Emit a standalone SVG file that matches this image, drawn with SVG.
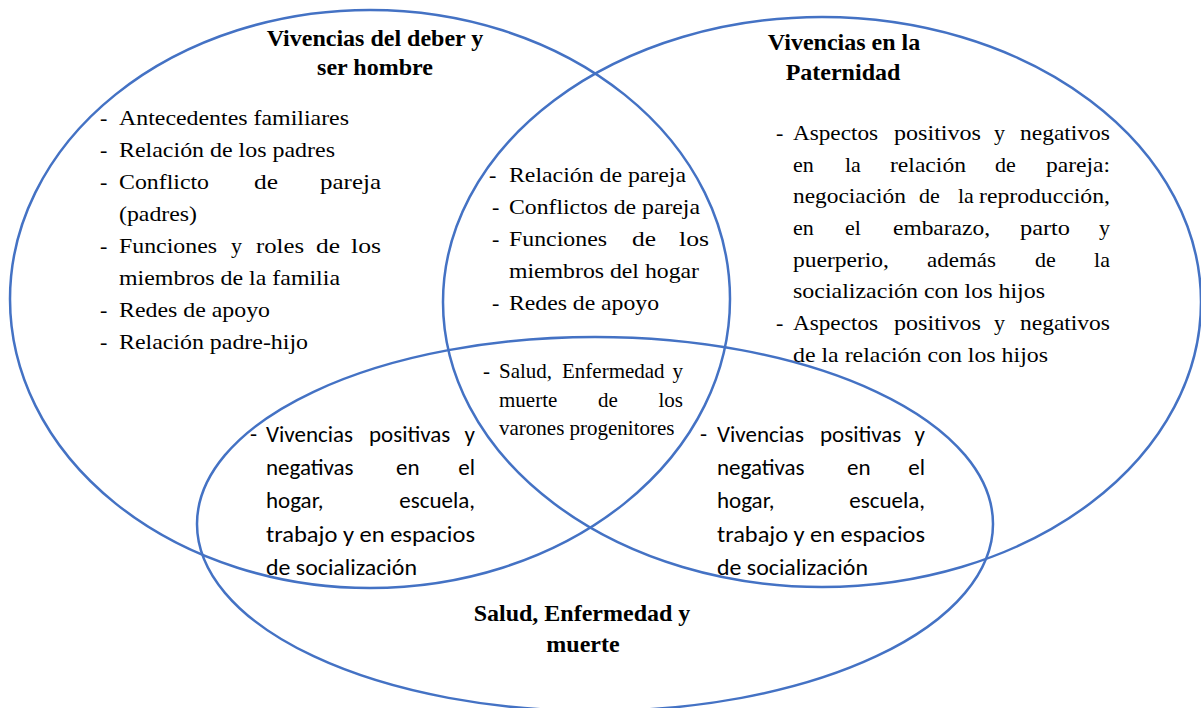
<svg xmlns="http://www.w3.org/2000/svg" width="1201" height="708" viewBox="0 0 1201 708">
<style>
.ring{fill:none;stroke:#4472C4;stroke-width:2.5}
.t{font-family:"Liberation Serif",Tinos,"Times New Roman",serif;font-size:22px;fill:#000}
.b{font-weight:bold;font-size:24px}
.m{text-anchor:middle}
.e{text-anchor:end}
.s{font-size:21px}
.c{font-family:Carlito,Calibri,Lato,"Liberation Sans",sans-serif;font-size:23px;fill:#000}
</style>
<rect width="1201" height="708" fill="#fff"/>
<g id="outlines">
<ellipse id="ring-left" class="ring" cx="370" cy="299" rx="360" ry="289"/>
<ellipse id="ring-right" class="ring" cx="822" cy="302" rx="379" ry="285"/>
<ellipse id="ring-bottom" class="ring" cx="595" cy="524" rx="398" ry="187"/>
</g>
<g id="set-left" class="t">
<text class="b m" x="375" y="46">Vivencias del deber y</text>
<text class="b m" x="375" y="75">ser hombre</text>
<text x="100" y="125">-</text><text x="119" y="125" textLength="230" lengthAdjust="spacingAndGlyphs">Antecedentes familiares</text>
<text x="100" y="157">-</text><text x="119" y="157" textLength="216" lengthAdjust="spacingAndGlyphs">Relación de los padres</text>
<text x="100" y="189">-</text><text x="119" y="189" textLength="90" lengthAdjust="spacingAndGlyphs">Conflicto</text><text x="254" y="189" textLength="24" lengthAdjust="spacingAndGlyphs">de</text><text x="320" y="189" textLength="61" lengthAdjust="spacingAndGlyphs">pareja</text>
<text x="119" y="221" textLength="78" lengthAdjust="spacingAndGlyphs">(padres)</text>
<text x="100" y="253">-</text><text x="119" y="253" textLength="98" lengthAdjust="spacingAndGlyphs">Funciones</text><text x="231" y="253">y</text><text x="256" y="253" textLength="48" lengthAdjust="spacingAndGlyphs">roles</text><text x="316" y="253" textLength="24" lengthAdjust="spacingAndGlyphs">de</text><text x="351" y="253" textLength="30" lengthAdjust="spacingAndGlyphs">los</text>
<text x="119" y="285" textLength="221" lengthAdjust="spacingAndGlyphs">miembros de la familia</text>
<text x="100" y="317">-</text><text x="119" y="317" textLength="151" lengthAdjust="spacingAndGlyphs">Redes de apoyo</text>
<text x="100" y="349">-</text><text x="119" y="349" textLength="189" lengthAdjust="spacingAndGlyphs">Relación padre-hijo</text>
</g>
<g id="set-right" class="t">
<text class="b m" x="844" y="50">Vivencias en la</text>
<text class="b m" x="843" y="80">Paternidad</text>
<text x="776" y="140">-</text><text x="793" y="140" textLength="85" lengthAdjust="spacingAndGlyphs">Aspectos</text><text x="894" y="140" textLength="87" lengthAdjust="spacingAndGlyphs">positivos</text><text x="994" y="140">y</text><text x="1020" y="140" textLength="90" lengthAdjust="spacingAndGlyphs">negativos</text>
<text x="793" y="172">en</text><text x="845" y="172">la</text><text x="890" y="172" textLength="76" lengthAdjust="spacingAndGlyphs">relación</text><text x="995" y="172">de</text><text x="1046" y="172" textLength="64" lengthAdjust="spacingAndGlyphs">pareja:</text>
<text x="793" y="203" textLength="113" lengthAdjust="spacingAndGlyphs">negociación</text><text x="919" y="203">de</text><text x="958" y="203">la</text><text x="979" y="203" textLength="131" lengthAdjust="spacingAndGlyphs">reproducción,</text>
<text x="793" y="235">en</text><text x="845" y="235">el</text><text x="893" y="235" textLength="97" lengthAdjust="spacingAndGlyphs">embarazo,</text><text x="1020" y="235" textLength="50" lengthAdjust="spacingAndGlyphs">parto</text><text class="e" x="1110" y="235">y</text>
<text x="793" y="267" textLength="96" lengthAdjust="spacingAndGlyphs">puerperio,</text><text x="927" y="267" textLength="69" lengthAdjust="spacingAndGlyphs">además</text><text x="1035" y="267">de</text><text class="e" x="1110" y="267">la</text>
<text x="793" y="298" textLength="252" lengthAdjust="spacingAndGlyphs">socialización con los hijos</text>
<text x="776" y="330">-</text><text x="793" y="330" textLength="85" lengthAdjust="spacingAndGlyphs">Aspectos</text><text x="894" y="330" textLength="87" lengthAdjust="spacingAndGlyphs">positivos</text><text x="994" y="330">y</text><text x="1020" y="330" textLength="90" lengthAdjust="spacingAndGlyphs">negativos</text>
<text x="793" y="362" textLength="255" lengthAdjust="spacingAndGlyphs">de la relación con los hijos</text>
</g>
<g id="set-bottom" class="t">
<text class="b m" x="582" y="621">Salud, Enfermedad y</text>
<text class="b m" x="583" y="652">muerte</text>
</g>
<g id="overlap-left-right" class="t">
<text x="489" y="182">-</text><text x="509" y="182" textLength="177" lengthAdjust="spacingAndGlyphs">Relación de pareja</text>
<text x="492" y="214">-</text><text x="509" y="214" textLength="191" lengthAdjust="spacingAndGlyphs">Conflictos de pareja</text>
<text x="492" y="246">-</text><text x="509" y="246" textLength="98" lengthAdjust="spacingAndGlyphs">Funciones</text><text x="632" y="246" textLength="24" lengthAdjust="spacingAndGlyphs">de</text><text x="679" y="246" textLength="30" lengthAdjust="spacingAndGlyphs">los</text>
<text x="509" y="278" textLength="190" lengthAdjust="spacingAndGlyphs">miembros del hogar</text>
<text x="492" y="310">-</text><text x="509" y="310" textLength="150" lengthAdjust="spacingAndGlyphs">Redes de apoyo</text>
</g>
<g id="overlap-all" class="t s">
<text x="483" y="378">-</text><text x="499" y="378">Salud,</text><text x="562" y="378">Enfermedad</text><text class="e" x="683" y="378">y</text>
<text x="499" y="407">muerte</text><text x="598" y="407">de</text><text class="e" x="683" y="407">los</text>
<text x="499" y="435">varones progenitores</text>
</g>
<g id="overlap-left-bottom" class="c">
<text x="250" y="442">-</text><text x="266" y="442">Vivencias</text><text x="369" y="442">positivas</text><text class="e" x="475" y="442">y</text>
<text x="266" y="475">negativas</text><text x="396" y="475">en</text><text class="e" x="475" y="475">el</text>
<text x="266" y="508">hogar,</text><text class="e" x="475" y="508">escuela,</text>
<text x="266" y="542" textLength="209" lengthAdjust="spacingAndGlyphs">trabajo y en espacios</text>
<text x="266" y="575" textLength="151" lengthAdjust="spacingAndGlyphs">de socialización</text>
</g>
<g id="overlap-right-bottom" class="c">
<text x="700" y="442">-</text><text x="717" y="442">Vivencias</text><text x="820" y="442">positivas</text><text class="e" x="925" y="442">y</text>
<text x="717" y="475">negativas</text><text x="847" y="475">en</text><text class="e" x="925" y="475">el</text>
<text x="717" y="508">hogar,</text><text class="e" x="925" y="508">escuela,</text>
<text x="717" y="542" textLength="208" lengthAdjust="spacingAndGlyphs">trabajo y en espacios</text>
<text x="717" y="575" textLength="151" lengthAdjust="spacingAndGlyphs">de socialización</text>
</g>
<g id="connectors"/>
</svg>
